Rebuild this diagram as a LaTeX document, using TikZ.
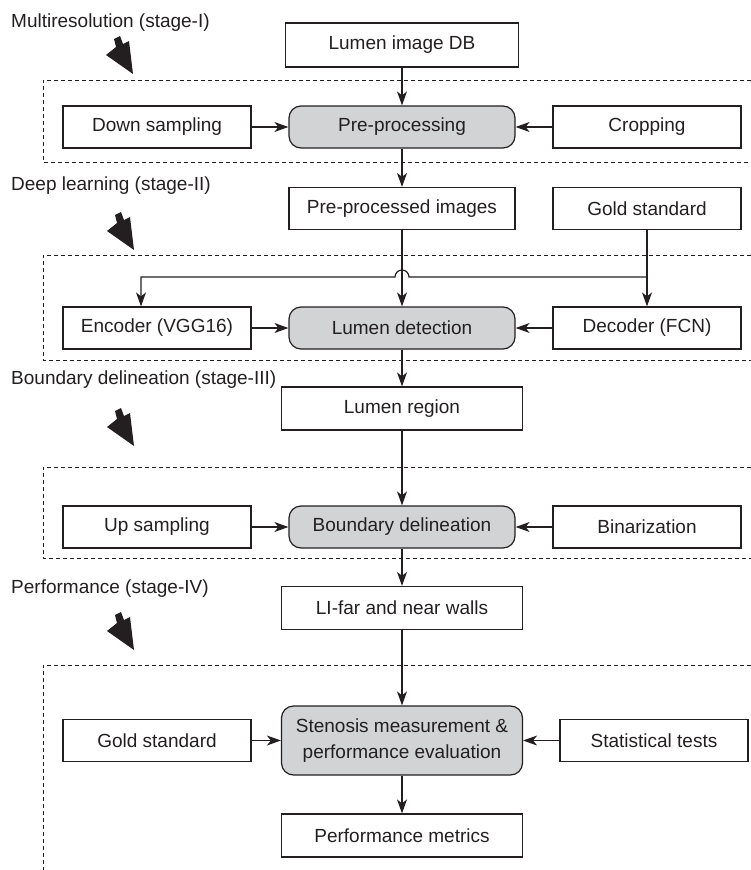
\documentclass[tikz,border=0pt]{standalone}
\usepackage{fontspec}
\setsansfont{Liberation Sans}
\usetikzlibrary{arrows.meta, calc}

\definecolor{inkgray}{HTML}{231F20}
\definecolor{stagegray}{HTML}{D1D3D4}
\newcommand{\stagearrow}[1]{%
  \fill[inkgray, shift={#1}] (0,0) -- (-4,-33) -- (-10,-30) -- (-13,-38)
    -- (-19,-35) -- (-17,-27) -- (-27,-19) -- cycle;%
}

\begin{document}
\begin{tikzpicture}[
  x=1pt, y=-1pt,
  font=\sffamily\fontsize{19}{26}\selectfont,
  every node/.style={text=inkgray},
  side/.style={draw=inkgray, line width=1.2pt, minimum width=188pt,
    minimum height=42pt, inner sep=0pt},
  mid/.style={side, minimum width=241pt, minimum height=43pt},
  proc/.style={side, fill=stagegray, rounded corners=12pt, minimum width=226pt},
  stage/.style={anchor=west, inner sep=0pt},
  stagebox/.style={draw=inkgray, line width=0.9pt, dash pattern=on 4pt off 3pt},
  flow/.style={draw=inkgray, line width=1.2pt,
    -{Stealth[length=14pt, width=10pt, inset=4pt]}},
]
  \useasboundingbox (0,0) rectangle (751,870);

  % Stage titles and block arrows
  \node[stage] (s1) at (11,23)  {Multiresolution (stage-I)};
  \node[stage] (s2) at (11,186) {Deep learning (stage-II)};
  \node[stage] (s3) at (11,380) {Boundary delineation (stage-III)};
  \node[stage] (s4) at (11,589) {Performance (stage-IV)};
  \stagearrow{(133,74)}
  \stagearrow{(134,250)}
  \stagearrow{(134,446)}
  \stagearrow{(134,650)}

  % Stage frames (open on the right)
  \draw[stagebox] (751,80)  -- (43,80)  -- (43,162) -- (751,162);
  \draw[stagebox] (751,255) -- (43,255) -- (43,360) -- (751,360);
  \draw[stagebox] (751,467) -- (43,467) -- (43,558) -- (751,558);
  \draw[stagebox] (751,665) -- (43,665) -- (43,870);

  % Stage-I
  \node[mid, minimum width=233pt, minimum height=44pt] (db) at (402,45) {Lumen image DB};
  \node[side] (down) at (157,127) {Down sampling};
  \node[proc] (pre)  at (402,127) {Pre-processing};
  \node[side] (crop) at (647,127) {Cropping};

  % Stage-II
  \node[side, minimum width=226pt] (ppi) at (402,208.5) {Pre-processed images};
  \node[side] (gold1) at (647,208.5) {Gold standard};
  \node[side] (enc) at (157,328) {Encoder (VGG16)};
  \node[proc] (det) at (402,328) {Lumen detection};
  \node[side] (dec) at (647,328) {Decoder (FCN)};

  % Stage-III
  \node[mid]  (reg) at (402,408.5) {Lumen region};
  \node[side] (up)  at (157,527) {Up sampling};
  \node[proc] (bnd) at (402,527) {Boundary delineation};
  \node[side] (bin) at (647,527) {Binarization};

  % Stage-IV
  \node[mid]  (li)    at (402,608) {LI-far and near walls};
  \node[side] (gold2) at (157,740.5) {Gold standard};
  \node[proc, minimum width=241pt, minimum height=69pt, align=center] (sten)
    at (402,740.5) {Stenosis measurement \&\\performance evaluation};
  \node[side] (stat)  at (654,740.5) {Statistical tests};
  \node[mid]  (perf)  at (402,835.5) {Performance metrics};

  % Flow
  \foreach \a/\b in {db/pre, down/pre, crop/pre, pre/ppi, ppi/det, enc/det,
                     dec/det, det/reg, reg/bnd, up/bnd, bin/bnd, bnd/li,
                     li/sten, gold2/sten, stat/sten, sten/perf}
    \draw[flow] (\a) -- (\b);

  % Gold standard feeds encoder and decoder (hop over the main line)
  \coordinate (split) at (647,277);
  \coordinate (encin) at (141,277);
  \draw[flow] (gold1) -- (split) -- (dec);
  \draw[flow] (split) -- ($(split -| ppi)+(7,0)$)
    arc[start angle=0, end angle=180, radius=7pt] -- (encin) -- (encin |- enc.north);
\end{tikzpicture}
\end{document}
